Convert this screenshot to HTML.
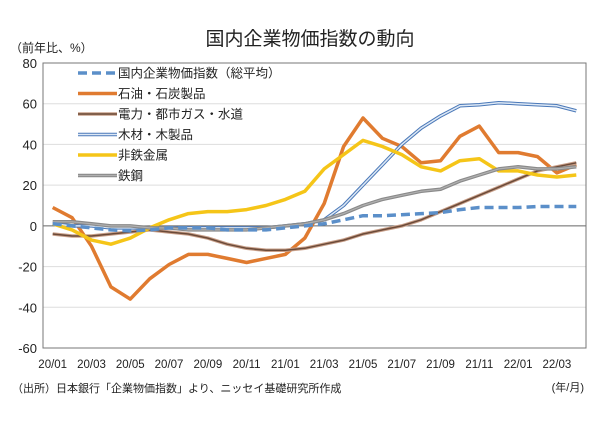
<!DOCTYPE html>
<html><head><meta charset="utf-8">
<style>
body{margin:0;background:#fff;}
svg text{font-family:"Liberation Sans","Noto Sans CJK JP",sans-serif;fill:#222;}
</style></head>
<body>
<svg id="chart" width="600" height="420" xmlns="http://www.w3.org/2000/svg">
<text x="310" y="45" font-size="19" text-anchor="middle">国内企業物価指数の動向</text>
<text x="10" y="52" font-size="12">（前年比、%）</text>
<g id="grid"></g>
<g id="series"></g>
<rect x="43" y="63" width="543" height="285" fill="none" stroke="#777" stroke-width="1"/>
<g id="ticks"></g>
<g id="legend"></g>
<text x="584" y="391" font-size="11" text-anchor="end">(年/月)</text>
<text x="12" y="392" font-size="11">（出所）日本銀行「企業物価指数」より、ニッセイ基礎研究所作成</text>
</svg>
<script>
const months=["20/01","20/02","20/03","20/04","20/05","20/06","20/07","20/08","20/09","20/10","20/11","20/12","21/01","21/02","21/03","21/04","21/05","21/06","21/07","21/08","21/09","21/10","21/11","21/12","22/01","22/02","22/03","22/04"];
const yTicks=[80,60,40,20,0,-20,-40,-60];
const avgVals=[1,0,-1,-2,-2.5,-2,-1,-1,-1,-2,-2,-2,-1,0,1,3,5,5,5.5,6,6.5,8,9,9,9,9.5,9.5,9.5];
const oilVals=[9,4,-10,-30,-36,-26,-19,-14,-14,-16,-18,-16,-14,-6,11,39,53,43,39,31,32,44,49,36,36,34,26,30];
const powerVals=[-4,-5,-5,-4,-3,-2,-3,-4,-6,-9,-11,-12,-12,-11,-9,-7,-4,-2,0,3,7,11,15,19,23,27,29,31];
const woodVals=[1,0,0,-1,-1,-1,-1,-1,-1,-1,-1,-1,0,1,3,10,20,30,40,48,54,59,59.5,60.5,60,59.5,59,56.5];
const metalVals=[1,-2,-7,-9,-6,-1,3,6,7,7,8,10,13,17,28,35,42,39,35,29,27,32,33,27,27,25,24,25];
const steelVals=[2,2,1,0,0,-1,-1,-2,-2,-2,-2,-1,0,1,3,6,10,13,15,17,18,22,25,28,29,28,28,29];
const seriesNames=["国内企業物価指数（総平均）","石油・石炭製品","電力・都市ガス・水道","木材・木製品","非鉄金属","鉄鋼"];

const NS="http://www.w3.org/2000/svg";
const L=43,R=586,T=63,B=348,ymin=-60,ymax=80;
const xs=i=>L+(i+0.5)*(R-L)/months.length;
const ys=v=>B-(v-ymin)/(ymax-ymin)*(B-T);
function mk(tag,attrs,parent){const e=document.createElementNS(NS,tag);for(const k in attrs)e.setAttribute(k,attrs[k]);parent.appendChild(e);return e;}
const grid=document.getElementById('grid'),ticks=document.getElementById('ticks'),ser=document.getElementById('series'),leg=document.getElementById('legend');
yTicks.forEach(v=>{
  const g=mk('line',{x1:L,x2:R,y1:ys(v),y2:ys(v),stroke:v===0?'#666':'#ddd','stroke-width':1},grid);
  
  
  const t=mk('text',{x:37,y:ys(v)+5,'font-size':13,'text-anchor':'end'},ticks);
  t.textContent=v;
  
  
});
months.forEach((m,i)=>{
  if(i%2)return;
  const t=mk('text',{x:xs(i),y:368,'font-size':11.5,'text-anchor':'middle'},ticks);
  t.textContent=m;
  
  
});
const styles=[
 {vals:oilVals,layers:[{c:'#e07b30',w:3.5}]},
 {vals:powerVals,layers:[{c:'#c9a08a',w:3.5},{c:'#6b4a38',w:1.5}]},
 {vals:woodVals,layers:[{c:'#4a78b8',w:3.5},{c:'#dde8f5',w:1.5}]},
 {vals:metalVals,layers:[{c:'#f5c518',w:3.5}]},
 {vals:steelVals,layers:[{c:'#8a8a8a',w:3.5},{c:'#b0b0b0',w:1.2}]},
 {vals:avgVals,layers:[{c:'#5b8fc9',w:3.5,d:'9 5'}]}
];
const names=["oil-coal-line","power-gas-water-line","wood-line","nonferrous-metal-line","steel-line","overall-average-line"];
styles.forEach((s,k)=>{
  const pts=s.vals.map((v,i)=>xs(i).toFixed(1)+','+ys(v).toFixed(1)).join(' ');
  s.layers.forEach(l=>{
    const p=mk('polyline',{points:pts,fill:'none',stroke:l.c,'stroke-width':l.w,'stroke-linejoin':'round','stroke-dasharray':l.d||'none'},ser);
    
    
  });
});
const legOrder=[5,0,1,2,3,4];
legOrder.forEach((k,r)=>{
  const y=73+r*20.5;
  styles[k].layers.forEach(l=>{
    const ln=mk('line',{x1:78,x2:117,y1:y,y2:y,stroke:l.c,'stroke-width':l.w,'stroke-dasharray':l.d||'none'},leg);
    
    
  });
  const t=mk('text',{x:118,y:y+4.5,'font-size':12.5},leg);
  t.textContent=seriesNames[r];
  
  
});
</script>
</body></html>
